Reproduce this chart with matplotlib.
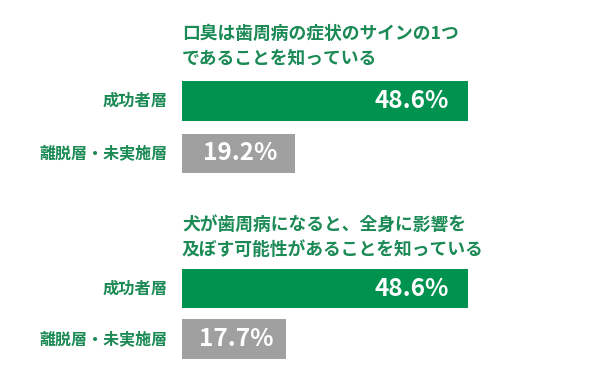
import matplotlib
matplotlib.use("Agg")
from matplotlib import pyplot as plt

plt.rcParams['font.family'] = ['Noto Sans CJK JP', 'DejaVu Sans']

# data
questions = ["口臭は歯周病の症状のサインの1つ\nであることを知っている",
             "犬が歯周病になると、全身に影響を\n及ぼす可能性があることを知っている"]
groups = ["成功者層", "離脱層・未実施層"]
success = [48.6, 48.6]
dropout = [19.2, 17.7]

green = "#00924f"
gray = "#a0a0a0"
text_green = "#1b8a55"

W, H = 595, 373
px_per_pct = 5.88
x0 = 182

fig = plt.figure(figsize=(W / 100, H / 100), dpi=100)
ax = fig.add_axes([x0 / W, 0, (W - x0) / W, 1])
ax.set_xlim(0, (W - x0) / px_per_pct)
ax.set_ylim(H, 0)
ax.axis("off")

# layout (pixel rows)
title_y = [46, 237]
bar_y = [[101, 153.5], [288.5, 339]]
bar_h = 39.5
lab_x = -(x0 - 168) / px_per_pct
pad = 19 / px_per_pct

for i, q in enumerate(questions):
    ax.text(0, title_y[i], q, ha="left", va="center", fontsize=12.8,
            fontweight="bold", color=text_green, linespacing=1.5)
    yg, yd = bar_y[i]
    ax.barh(yg, success[i], height=bar_h, color=green, left=0)
    ax.barh(yd, dropout[i], height=bar_h, color=gray, left=0)
    ax.text(success[i] - pad, yg, "{}%".format(success[i]), ha="right",
            va="center", fontsize=17.5, fontweight="bold", color="white")
    ax.text(dropout[i] / 2 + 0.3, yd, "{}%".format(dropout[i]), ha="center",
            va="center", fontsize=17.5, fontweight="bold", color="white")
    ax.text(lab_x, yg, groups[0], ha="right", va="center", fontsize=11.7,
            fontweight="bold", color=text_green)
    ax.text(lab_x, yd, groups[1], ha="right", va="center", fontsize=11.5,
            fontweight="bold", color=text_green)

fig.savefig("out.png", dpi=100)
